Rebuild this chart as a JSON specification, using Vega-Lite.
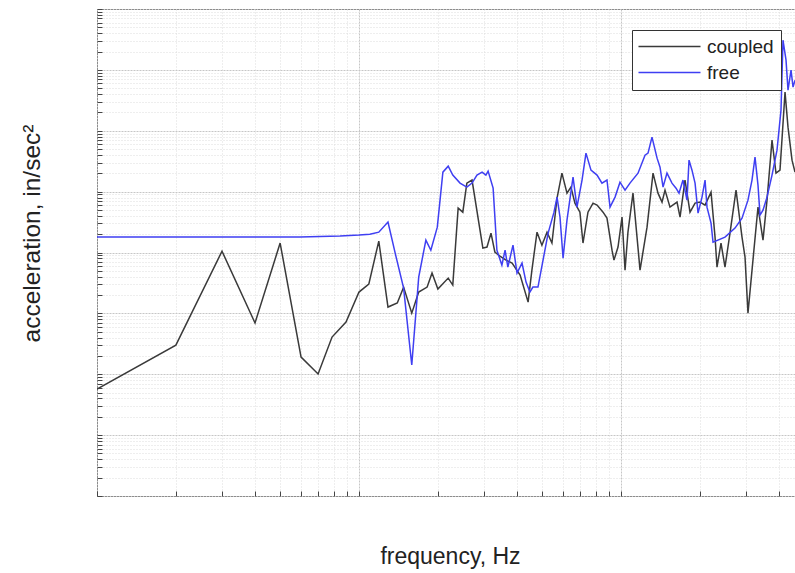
{
  "$schema": "https://vega.github.io/schema/vega-lite/v6.json",
  "width": 698,
  "height": 487,
  "autosize": {"type": "none"},
  "padding": {"left": 97, "top": 9, "right": 0, "bottom": 77},
  "background": "white",
  "config": {
    "view": {"stroke": "#555555", "strokeWidth": 1},
    "font": "Liberation Sans"
  },
  "data": {
    "values": [
      {"s":"coupled","f":10.0,"a":0.0571},{"s":"coupled","f":20.0,"a":0.301},{"s":"coupled","f":30.0,"a":10.5},{"s":"coupled","f":40.1,"a":0.694},{"s":"coupled","f":50.0,"a":14.3},{"s":"coupled","f":60.1,"a":0.191},{"s":"coupled","f":69.8,"a":0.101},{"s":"coupled","f":78.9,"a":0.408},{"s":"coupled","f":89.2,"a":0.719},{"s":"coupled","f":100,"a":2.24},{"s":"coupled","f":109,"a":3.03},{"s":"coupled","f":119,"a":15.4},{"s":"coupled","f":129,"a":1.27},{"s":"coupled","f":140,"a":1.48},{"s":"coupled","f":148,"a":2.70},{"s":"coupled","f":159,"a":1.01},{"s":"coupled","f":169,"a":2.24},{"s":"coupled","f":182,"a":2.70},{"s":"coupled","f":190,"a":4.59},{"s":"coupled","f":200,"a":2.51},{"s":"coupled","f":219,"a":3.80},{"s":"coupled","f":228,"a":2.92},{"s":"coupled","f":239,"a":53.6},{"s":"coupled","f":249,"a":46.0},{"s":"coupled","f":258,"a":138},{"s":"coupled","f":270,"a":155},{"s":"coupled","f":297,"a":11.8},{"s":"coupled","f":308,"a":12.3},{"s":"coupled","f":319,"a":20.8},{"s":"coupled","f":330,"a":10.2},{"s":"coupled","f":345,"a":8.73},{"s":"coupled","f":364,"a":7.50},{"s":"coupled","f":384,"a":6.70},{"s":"coupled","f":412,"a":4.26},{"s":"coupled","f":442,"a":1.53},{"s":"coupled","f":457,"a":5.14},{"s":"coupled","f":478,"a":21.6},{"s":"coupled","f":499,"a":13.2},{"s":"coupled","f":522,"a":21.6},{"s":"coupled","f":545,"a":14.3},{"s":"coupled","f":570,"a":78.2},{"s":"coupled","f":595,"a":201},{"s":"coupled","f":622,"a":94.4},{"s":"coupled","f":644,"a":119},{"s":"coupled","f":667,"a":64.7},{"s":"coupled","f":697,"a":46.0},{"s":"coupled","f":716,"a":14.3},{"s":"coupled","f":748,"a":46.0},{"s":"coupled","f":782,"a":64.7},{"s":"coupled","f":810,"a":60.0},{"s":"coupled","f":854,"a":46.0},{"s":"coupled","f":884,"a":36.7},{"s":"coupled","f":924,"a":10.9},{"s":"coupled","f":940,"a":7.50},{"s":"coupled","f":974,"a":12.3},{"s":"coupled","f":1009,"a":38.1},{"s":"coupled","f":1036,"a":5.14},{"s":"coupled","f":1063,"a":21.6},{"s":"coupled","f":1111,"a":94.4},{"s":"coupled","f":1182,"a":5.14},{"s":"coupled","f":1257,"a":26.1},{"s":"coupled","f":1325,"a":201},{"s":"coupled","f":1384,"a":94.4},{"s":"coupled","f":1434,"a":67.2},{"s":"coupled","f":1472,"a":106},{"s":"coupled","f":1538,"a":55.6},{"s":"coupled","f":1636,"a":67.2},{"s":"coupled","f":1680,"a":38.1},{"s":"coupled","f":1755,"a":155},{"s":"coupled","f":1834,"a":46.0},{"s":"coupled","f":1917,"a":64.7},{"s":"coupled","f":2003,"a":67.2},{"s":"coupled","f":2093,"a":60.0},{"s":"coupled","f":2206,"a":98.1},{"s":"coupled","f":2285,"a":17.9},{"s":"coupled","f":2325,"a":5.75},{"s":"coupled","f":2408,"a":14.3},{"s":"coupled","f":2494,"a":5.75},{"s":"coupled","f":2606,"a":20.8},{"s":"coupled","f":2748,"a":106},{"s":"coupled","f":2896,"a":17.9},{"s":"coupled","f":2974,"a":8.40},{"s":"coupled","f":3052,"a":1.01},{"s":"coupled","f":3189,"a":7.50},{"s":"coupled","f":3333,"a":55.6},{"s":"coupled","f":3483,"a":16.0},{"s":"coupled","f":3608,"a":72.5},{"s":"coupled","f":3770,"a":701},{"s":"coupled","f":3904,"a":201},{"s":"coupled","f":4044,"a":225},{"s":"coupled","f":4227,"a":4305},{"s":"coupled","f":4339,"a":1146},{"s":"coupled","f":4495,"a":329},{"s":"coupled","f":4614,"a":209},
      {"s":"free","f":10.0,"a":17.9},{"s":"free","f":24.7,"a":17.9},{"s":"free","f":59.5,"a":17.9},{"s":"free","f":84.6,"a":18.6},{"s":"free","f":100,"a":19.3},{"s":"free","f":110,"a":20.0},{"s":"free","f":119,"a":21.6},{"s":"free","f":129,"a":31.6},{"s":"free","f":138,"a":9.06},{"s":"free","f":148,"a":2.60},{"s":"free","f":159,"a":0.142},{"s":"free","f":169,"a":3.94},{"s":"free","f":180,"a":16.0},{"s":"free","f":188,"a":10.9},{"s":"free","f":199,"a":26.1},{"s":"free","f":209,"a":209},{"s":"free","f":219,"a":262},{"s":"free","f":228,"a":187},{"s":"free","f":243,"a":138},{"s":"free","f":258,"a":119},{"s":"free","f":270,"a":138},{"s":"free","f":282,"a":187},{"s":"free","f":295,"a":209},{"s":"free","f":305,"a":187},{"s":"free","f":311,"a":217},{"s":"free","f":325,"a":114},{"s":"free","f":336,"a":10.9},{"s":"free","f":351,"a":6.21},{"s":"free","f":361,"a":10.9},{"s":"free","f":370,"a":5.75},{"s":"free","f":387,"a":13.2},{"s":"free","f":401,"a":4.59},{"s":"free","f":419,"a":6.70},{"s":"free","f":434,"a":3.26},{"s":"free","f":449,"a":2.24},{"s":"free","f":461,"a":2.70},{"s":"free","f":482,"a":2.70},{"s":"free","f":504,"a":7.50},{"s":"free","f":527,"a":20.8},{"s":"free","f":555,"a":46.0},{"s":"free","f":570,"a":81.3},{"s":"free","f":585,"a":38.1},{"s":"free","f":601,"a":8.09},{"s":"free","f":622,"a":34.0},{"s":"free","f":656,"a":173},{"s":"free","f":679,"a":55.6},{"s":"free","f":710,"a":155},{"s":"free","f":735,"a":429},{"s":"free","f":768,"a":225},{"s":"free","f":810,"a":187},{"s":"free","f":846,"a":138},{"s":"free","f":884,"a":155},{"s":"free","f":908,"a":55.6},{"s":"free","f":949,"a":81.3},{"s":"free","f":991,"a":143},{"s":"free","f":1036,"a":106},{"s":"free","f":1082,"a":138},{"s":"free","f":1161,"a":201},{"s":"free","f":1235,"a":397},{"s":"free","f":1268,"a":429},{"s":"free","f":1313,"a":785},{"s":"free","f":1373,"a":355},{"s":"free","f":1409,"a":252},{"s":"free","f":1447,"a":119},{"s":"free","f":1498,"a":201},{"s":"free","f":1565,"a":138},{"s":"free","f":1622,"a":114},{"s":"free","f":1665,"a":94.4},{"s":"free","f":1724,"a":155},{"s":"free","f":1786,"a":72.5},{"s":"free","f":1818,"a":329},{"s":"free","f":1866,"a":225},{"s":"free","f":1917,"a":138},{"s":"free","f":1968,"a":44.4},{"s":"free","f":2038,"a":81.3},{"s":"free","f":2093,"a":155},{"s":"free","f":2129,"a":55.6},{"s":"free","f":2206,"a":30.4},{"s":"free","f":2245,"a":14.8},{"s":"free","f":2494,"a":17.9},{"s":"free","f":2723,"a":25.2},{"s":"free","f":2896,"a":36.7},{"s":"free","f":3052,"a":72.5},{"s":"free","f":3162,"a":155},{"s":"free","f":3247,"a":369},{"s":"free","f":3333,"a":128},{"s":"free","f":3393,"a":41.1},{"s":"free","f":3483,"a":49.7},{"s":"free","f":3608,"a":81.3},{"s":"free","f":3770,"a":187},{"s":"free","f":3939,"a":480},{"s":"free","f":4080,"a":2178},{"s":"free","f":4152,"a":30760},{"s":"free","f":4264,"a":14420},{"s":"free","f":4339,"a":4645},{"s":"free","f":4456,"a":9886},{"s":"free","f":4535,"a":5200},{"s":"free","f":4614,"a":6776}
    ]
  },
  "mark": {"type": "line", "strokeWidth": 1.5, "clip": true},
  "encoding": {
    "x": {
      "field": "f", "type": "quantitative",
      "scale": {"type": "log", "domain": [10, 4614], "nice": false},
      "axis": {
        "orient": "bottom",
        "labels": false,
        "domain": false,
        "values": [10,20,30,40,50,60,70,80,90,100,200,300,400,500,600,700,800,900,1000,2000,3000,4000],
        "grid": true,
        "gridColor": {"condition": {"test": "abs(log(datum.value)/LN10 - round(log(datum.value)/LN10)) < 0.001", "value": "#c6c6c6"}, "value": "#dcdcdc"},
        "gridDash": {"condition": {"test": "abs(log(datum.value)/LN10 - round(log(datum.value)/LN10)) < 0.001", "value": [2, 1]}, "value": [1, 2]},
        "tickSize": -5,
        "tickColor": "#444444",
        "title": "frequency, Hz",
        "titleFont": "Liberation Sans",
        "titleFontSize": 23,
        "titleFontWeight": "normal",
        "titleColor": "#222222",
        "titleX": 353,
        "titleY": 67,
        "titleAlign": "center",
        "titleBaseline": "alphabetic"
      }
    },
    "y": {
      "field": "a", "type": "quantitative",
      "scale": {"type": "log", "domain": [0.001, 100000], "nice": false},
      "axis": {
        "labels": false,
        "domain": false,
        "values": [0.001,0.002,0.003,0.004,0.005,0.006,0.007,0.008,0.009,0.01,0.02,0.03,0.04,0.05,0.06,0.07,0.08,0.09,0.1,0.2,0.3,0.4,0.5,0.6,0.7,0.8,0.9,1,2,3,4,5,6,7,8,9,10,20,30,40,50,60,70,80,90,100,200,300,400,500,600,700,800,900,1000,2000,3000,4000,5000,6000,7000,8000,9000,10000,20000,30000,40000,50000,60000,70000,80000,90000,100000],
        "grid": true,
        "gridColor": {"condition": {"test": "abs(log(datum.value)/LN10 - round(log(datum.value)/LN10)) < 0.001", "value": "#c6c6c6"}, "value": "#dcdcdc"},
        "gridDash": {"condition": {"test": "abs(log(datum.value)/LN10 - round(log(datum.value)/LN10)) < 0.001", "value": [2, 1]}, "value": [1, 2]},
        "tickSize": -5,
        "tickColor": "#444444",
        "title": "acceleration, in/sec²",
        "titleFont": "Liberation Sans",
        "titleFontSize": 24.5,
        "titleFontWeight": "normal",
        "titleColor": "#222222",
        "titleX": -58,
        "titleY": 224,
        "titleAngle": -90,
        "titleAlign": "center",
        "titleBaseline": "alphabetic"
      }
    },
    "color": {
      "field": "s", "type": "nominal",
      "scale": {"domain": ["coupled", "free"], "range": ["#3a3a3a", "#3f3ff2"]},
      "legend": {
        "title": null,
        "orient": "none",
        "legendX": 535,
        "legendY": 21,
        "direction": "vertical",
        "fillColor": "white",
        "strokeColor": "#333333",
        "padding": 7,
        "symbolType": "M-1.667,0H8.667",
        "symbolSize": 144,
        "symbolStrokeWidth": 1.5,
        "labelFont": "Liberation Sans",
        "labelFontSize": 19,
        "labelColor": "#222222",
        "labelOffset": 49,
        "rowPadding": 6
      }
    }
  }
}
